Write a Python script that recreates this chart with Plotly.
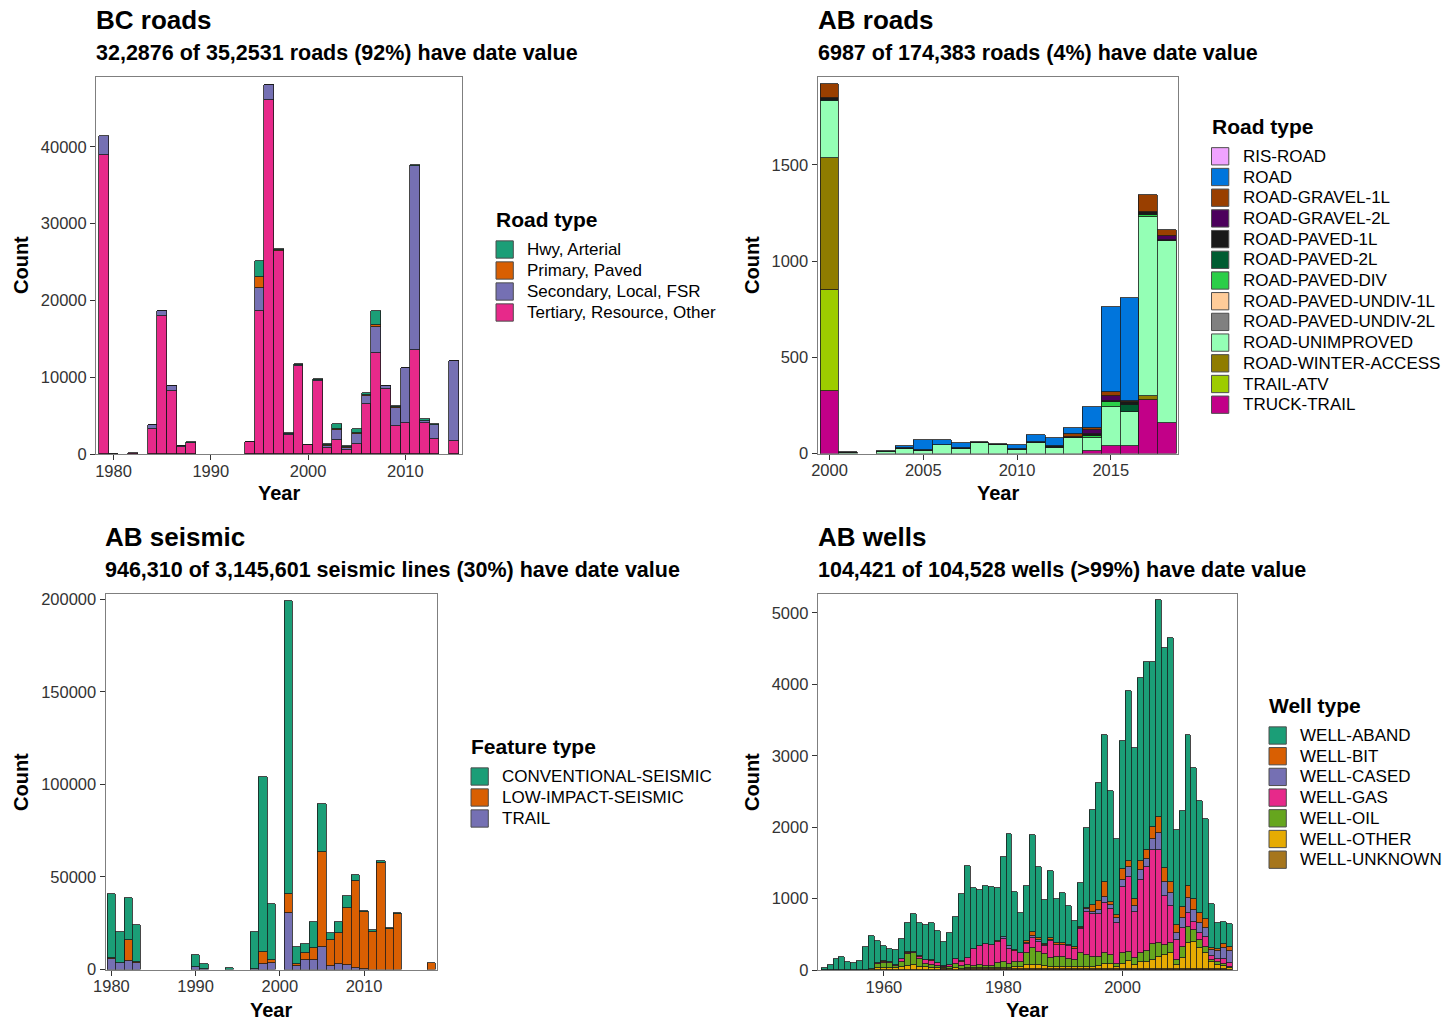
import plotly.graph_objects as go

W, H = 1447, 1021
FONT = "Liberation Sans, Arial, sans-serif"
DARK2 = ["#1B9E77", "#D95F02", "#7570B3", "#E7298A", "#66A61E", "#E6AB02", "#A6761D"]

# ---------------- BC roads (stack order bottom -> top) ----------------
bc_years = [1979, 1980, 1982, 1984, 1985, 1986, 1987, 1988, 1994, 1995, 1996, 1997, 1998, 1999,
            2000, 2001, 2002, 2003, 2004, 2005, 2006, 2007, 2008, 2009, 2010, 2011, 2012, 2013, 2015]
bc_tertiary = [39000, 60, 80, 3250, 18000, 8250, 870, 1450, 1550, 18600, 46070, 26400, 2500, 11450,
               1150, 9450, 740, 1850, 480, 1300, 6450, 13150, 8450, 3700, 4050, 13500, 4050, 1900, 1720]
bc_secondary = [2400, 0, 0, 500, 600, 600, 180, 30, 30, 2960, 1960, 100, 100, 100,
                30, 150, 300, 1300, 280, 1300, 1150, 3340, 400, 2300, 7100, 24000, 200, 1900, 10400]
bc_primary = [0, 0, 0, 30, 30, 20, 20, 10, 10, 1520, 20, 80, 50, 80,
              10, 100, 100, 100, 100, 200, 100, 300, 30, 100, 30, 50, 100, 30, 20]
bc_hwy = [0, 0, 0, 20, 20, 20, 10, 10, 10, 2000, 20, 120, 50, 70,
          10, 100, 120, 650, 140, 500, 300, 1860, 20, 100, 20, 50, 150, 30, 20]
bc_types = ["Hwy, Arterial", "Primary, Paved", "Secondary, Local, FSR", "Tertiary, Resource, Other"]

# ---------------- AB roads ----------------
abr_years = [2000, 2001, 2003, 2004, 2005, 2006, 2007, 2008, 2009, 2010, 2011, 2012, 2013, 2014,
             2015, 2016, 2017, 2018]
abr_types = ["RIS-ROAD", "ROAD", "ROAD-GRAVEL-1L", "ROAD-GRAVEL-2L", "ROAD-PAVED-1L",
             "ROAD-PAVED-2L", "ROAD-PAVED-DIV", "ROAD-PAVED-UNDIV-1L", "ROAD-PAVED-UNDIV-2L",
             "ROAD-UNIMPROVED", "ROAD-WINTER-ACCESS", "TRAIL-ATV", "TRUCK-TRAIL"]
abr_colors = ["#F0A3FF", "#0075DC", "#993F00", "#4C005C", "#191919", "#005C31", "#2BCE48",
              "#FFCC99", "#808080", "#94FFB5", "#8F7C00", "#9DCC00", "#C20088"]
abr_ris = [0, 0, 0, 0, 0, 0, 0, 0, 0, 0, 0, 0, 0, 0, 0, 0, 0, 0]
abr_road = [0, 0, 0, 12, 50, 25, 28, 0, 0, 22, 35, 40, 34, 109, 439, 533, 0, 0]
abr_gravel_1l = [71, 0, 0, 0, 0, 0, 0, 0, 0, 0, 0, 0, 14, 9, 24, 9, 87, 29]
abr_gravel_2l = [0, 0, 0, 0, 0, 0, 0, 0, 0, 0, 0, 0, 0, 21, 23, 0, 0, 21]
abr_paved_1l = [10, 5, 0, 3, 4, 3, 3, 4, 5, 5, 5, 7, 8, 9, 5, 14, 16, 7]
abr_paved_2l = [6, 0, 6, 0, 0, 0, 0, 0, 0, 0, 0, 0, 0, 0, 0, 35, 0, 0]
abr_paved_div = [0, 0, 0, 0, 0, 0, 0, 0, 0, 0, 0, 0, 0, 9, 26, 0, 10, 0]
abr_undiv_1l = [0, 0, 0, 0, 0, 0, 0, 0, 0, 0, 0, 0, 0, 0, 0, 0, 0, 0]
abr_undiv_2l = [0, 0, 0, 0, 0, 0, 0, 0, 0, 0, 0, 0, 0, 0, 0, 0, 0, 0]
abr_unimproved = [297, 3, 6, 25, 14, 43, 26, 55, 42, 18, 57, 31, 78, 69, 203, 177, 929, 943]
abr_winter = [684, 0, 0, 0, 0, 0, 0, 0, 0, 0, 0, 0, 0, 0, 0, 0, 20, 5]
abr_atv = [526, 0, 0, 0, 0, 0, 0, 0, 0, 0, 0, 0, 0, 0, 0, 0, 0, 0]
abr_truck = [326, 0, 0, 0, 0, 0, 0, 0, 0, 0, 0, 0, 0, 14, 40, 40, 280, 156]
abr_series = [abr_ris, abr_road, abr_gravel_1l, abr_gravel_2l, abr_paved_1l, abr_paved_2l,
              abr_paved_div, abr_undiv_1l, abr_undiv_2l, abr_unimproved, abr_winter, abr_atv,
              abr_truck]

# ---------------- AB seismic ----------------
seis_years = [1980, 1981, 1982, 1983, 1990, 1991, 1994, 1997, 1998, 1999, 2001, 2002, 2003, 2004,
              2005, 2006, 2007, 2008, 2009, 2010, 2011, 2012, 2013, 2014, 2018]
seis_trail = [5770, 3420, 4680, 3780, 1440, 500, 0, 200, 2880, 3780, 30630, 1800, 5400, 5400,
              12250, 2160, 2880, 2340, 1080, 100, 0, 0, 0, 0, 0]
seis_low = [400, 200, 11180, 100, 0, 0, 0, 100, 6670, 1200, 10270, 1300, 3250, 5950,
            51350, 13700, 16920, 30660, 46670, 31070, 20000, 57660, 21800, 29900, 3780]
seis_conv = [34370, 16380, 23040, 19920, 6490, 2380, 900, 19700, 94550, 30520, 158400, 9150, 5400,
             14050, 25800, 3940, 6000, 6640, 3050, 530, 1260, 1080, 720, 730, 0]
seis_types = ["CONVENTIONAL-SEISMIC", "LOW-IMPACT-SEISMIC", "TRAIL"]

# ---------------- AB wells ----------------
well_years = list(range(1950, 2019))
well_unknown = [0, 0, 0, 0, 0, 0, 0, 0, 0, 5, 5, 5, 5, 5, 5, 5, 5, 5, 5, 5, 15, 5, 5, 5,
                10, 10, 10, 10, 10, 10, 10, 10, 10, 10, 10, 10, 10, 10, 10, 10, 10, 10, 10, 10,
                10, 10, 10, 10, 10, 10, 10, 10, 10, 10, 10, 10, 10, 10, 10, 10, 10, 10, 10, 10,
                10, 10, 10, 10, 5]
well_other = [0, 0, 0, 0, 0, 0, 0, 0, 10, 30, 30, 18, 18, 32, 51, 65, 42, 32, 23, 18, 10, 14, 23,
              15, 15, 15, 20, 15, 15, 23, 23, 20, 37, 37, 60, 60, 60, 46, 37, 37, 37, 37, 30, 37,
              37, 37, 46, 74, 74, 27, 74, 116, 60, 97, 107, 130, 167, 200, 233, 60, 153, 363, 387,
              293, 233, 97, 60, 46, 18]
well_oil = [0, 0, 0, 0, 0, 0, 0, 0, 0, 55, 70, 80, 38, 80, 168, 163, 103, 47, 42, 33, 12, 19, 56,
            30, 40, 35, 40, 35, 35, 60, 74, 49, 70, 70, 163, 233, 187, 163, 116, 140, 130, 112, 100,
            186, 163, 140, 121, 149, 126, 47, 159, 131, 93, 126, 154, 224, 196, 140, 140, 70, 154,
            225, 163, 117, 84, 33, 37, 28, 24]
well_gas = [0, 0, 0, 0, 0, 0, 0, 0, 0, 10, 10, 5, 5, 33, 19, 15, 37, 56, 61, 37, 19, 32, 66,
            67, 103, 234, 266, 299, 285, 294, 323, 215, 154, 116, 131, 141, 140, 117, 238, 158, 168,
            177, 149, 337, 607, 593, 607, 701, 640, 579, 924, 1050, 645, 1027, 1167, 1317, 1308,
            686, 513, 280, 267, 205, 117, 94, 140, 60, 47, 70, 46]
well_cased = [0, 0, 0, 0, 0, 0, 0, 0, 0, 0, 0, 0, 0, 0, 0, 0, 0, 0, 0, 0, 0, 0, 0,
              0, 0, 0, 0, 0, 0, 10, 30, 37, 0, 0, 10, 36, 23, 10, 20, 10, 10, 10, 10, 15, 33, 37,
              56, 84, 60, 61, 93, 131, 93, 140, 117, 149, 233, 201, 187, 94, 140, 201, 163, 149,
              117, 80, 116, 149, 178]
well_bit = [0, 0, 0, 0, 0, 0, 0, 0, 0, 5, 5, 5, 5, 5, 5, 5, 5, 5, 5, 5, 5, 5, 5,
            5, 5, 5, 5, 5, 5, 5, 7, 10, 10, 10, 37, 47, 33, 18, 27, 18, 18, 10, 28, 22, 14, 93, 126,
            210, 38, 46, 150, 93, 93, 127, 126, 168, 224, 187, 154, 116, 154, 177, 150, 131, 130,
            23, 20, 57, 56]
well_aband = [23, 75, 155, 187, 108, 94, 122, 318, 468, 298, 222, 182, 210, 276, 412, 534, 463,
              492, 524, 450, 337, 445, 585, 936, 1278, 853, 783, 816, 806, 745, 1115, 1569, 810,
              555, 771, 1369, 989, 619, 933, 619, 704, 543, 366, 615, 1126, 1333, 1658, 2063, 1557,
              1061, 1797, 2383, 2110, 2560, 2635, 2318, 3040, 3089, 3412, 1336, 1350, 2106, 1833,
              1575, 1402, 624, 370, 319, 319]
well_types = ["WELL-ABAND", "WELL-BIT", "WELL-CASED", "WELL-GAS", "WELL-OIL", "WELL-OTHER",
              "WELL-UNKNOWN"]


def px_x(p):
    return p / W


def px_y(p):
    return 1 - p / H


fig = go.Figure()


def add_stack(years, series_bottom_up, colors, axis_id):
    xa = "x" if axis_id == 1 else f"x{axis_id}"
    ya = "y" if axis_id == 1 else f"y{axis_id}"
    for vals, col in zip(series_bottom_up, colors):
        fig.add_trace(go.Bar(
            x=years, y=[v if v else None for v in vals], width=1,
            marker=dict(color=col, line=dict(color="#1a1a1a", width=0.8)),
            xaxis=xa, yaxis=ya, showlegend=False, hoverinfo="x+y"))


# BC roads: tertiary at the bottom, highways on top
add_stack(bc_years, [bc_tertiary, bc_secondary, bc_primary, bc_hwy],
          [DARK2[3], DARK2[2], DARK2[1], DARK2[0]], 1)
# AB roads: last legend level at the bottom
add_stack(abr_years, abr_series[::-1], abr_colors[::-1], 2)
# AB seismic
add_stack(seis_years, [seis_trail, seis_low, seis_conv], [DARK2[2], DARK2[1], DARK2[0]], 3)
# AB wells
add_stack(well_years, [well_unknown, well_other, well_oil, well_gas, well_cased, well_bit,
                       well_aband], DARK2[::-1], 4)

panels = {
    1: dict(x=(96, 462.3), y=(77, 454), xr=[1978.2, 2015.85], yr=[0, 49110],
            xt=[1980, 1990, 2000, 2010], yt=[0, 10000, 20000, 30000, 40000]),
    2: dict(x=(817.5, 1178.3), y=(77, 453.5), xr=[1999.36, 2018.6], yr=[0, 1957],
            xt=[2000, 2005, 2010, 2015], yt=[0, 500, 1000, 1500]),
    3: dict(x=(105.5, 437.3), y=(594, 969.5), xr=[1979.3, 2018.7], yr=[0, 202900],
            xt=[1980, 1990, 2000, 2010], yt=[0, 50000, 100000, 150000, 200000]),
    4: dict(x=(817.7, 1236.8), y=(594, 970), xr=[1948.9, 2019.15], yr=[0, 5266],
            xt=[1960, 1980, 2000], yt=[0, 1000, 2000, 3000, 4000, 5000]),
}

axis_common = dict(showline=True, mirror=True, linecolor="#7f7f7f", linewidth=1,
                   ticks="outside", ticklen=5, tickwidth=1, tickcolor="#333333",
                   showgrid=False, zeroline=False, automargin=False,
                   tickfont=dict(family=FONT, size=16.5, color="#333333"))

layout_axes = {}
for i, p in panels.items():
    sx = "" if i == 1 else str(i)
    layout_axes[f"xaxis{sx}"] = dict(
        axis_common, domain=[px_x(p["x"][0]), px_x(p["x"][1])], range=p["xr"],
        tickvals=p["xt"], anchor=f"y{sx}", fixedrange=True, ticklabelstandoff=-3)
    layout_axes[f"yaxis{sx}"] = dict(
        axis_common, domain=[px_y(p["y"][1]), px_y(p["y"][0])], range=p["yr"],
        tickvals=p["yt"], tickformat="d", anchor=f"x{sx}", fixedrange=True)

annotations = []
shapes = []


def text(x, y, s, size, bold=False, angle=0, xanchor="left"):
    annotations.append(dict(
        x=px_x(x), y=px_y(y), xref="paper", yref="paper", text=s, showarrow=False,
        xanchor=xanchor, yanchor="middle", textangle=angle,
        font=dict(family=FONT, size=size, color="#000000", weight="bold" if bold else "normal")))


# Titles and subtitles
text(94, 20, "BC roads", 26, True)
text(94, 53, "32,2876 of 35,2531 roads (92%) have date value", 21.5, True)
text(816, 20, "AB roads", 26, True)
text(816, 53, "6987 of 174,383 roads (4%) have date value", 21.5, True)
text(103, 537, "AB seismic", 26, True)
text(103, 570, "946,310 of 3,145,601 seismic lines (30%) have date value", 21.5, True)
text(816, 537, "AB wells", 26, True)
text(816, 570, "104,421 of 104,528 wells (>99%) have date value", 21.5, True)

# Axis titles
for (cx, cy) in [(21, 265), (752, 265), (21, 782), (752, 782)]:
    text(cx, cy, "Count", 20, True, angle=-90, xanchor="center")
for (cx, cy) in [(279, 493), (998, 493), (271, 1010), (1027, 1010)]:
    text(cx, cy, "Year", 20, True, xanchor="center")


def legend(title, names, colors, kx, ty, first, pitch, key=17.3):
    text(kx - 2, ty, title, 21, True)
    for j, (nm, col) in enumerate(zip(names, colors)):
        cy = first + j * pitch
        shapes.append(dict(type="rect", xref="paper", yref="paper",
                           x0=px_x(kx), x1=px_x(kx + key),
                           y0=px_y(cy + key / 2), y1=px_y(cy - key / 2),
                           fillcolor=col, line=dict(color="#4d4d4d", width=1)))
        text(kx + 29, cy, nm, 17)


legend("Road type", bc_types, DARK2[:4], 496, 219, 249.5, 21)
legend("Road type", abr_types, abr_colors, 1211.5, 126, 156.3, 20.7)
legend("Feature type", seis_types, DARK2[:3], 471, 746, 776.5, 21)
legend("Well type", well_types, DARK2, 1269, 705, 735.5, 20.7)

fig.update_layout(
    width=W, height=H, margin=dict(l=0, r=0, t=0, b=0, autoexpand=False), autosize=False,
    paper_bgcolor="white", plot_bgcolor="white",
    barmode="stack", bargap=0, showlegend=False,
    font=dict(family=FONT, color="#000000"),
    annotations=annotations, shapes=shapes, **layout_axes)

fig.write_html("out.html")
